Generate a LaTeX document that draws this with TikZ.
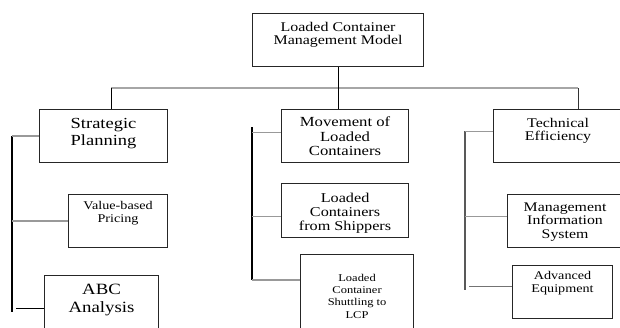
\documentclass[tikz,border=0pt]{standalone}
\usepackage{fontspec}
\setmainfont{Liberation Serif}[FakeStretch=1.2]
\usepackage{tikz}

% text of a box: width, height, top padding, lines
\newcommand\boxtext[4]{\parbox[c][#2pt][t]{#1pt}{\centering\vspace*{#3pt}#4}}
\newcommand\fs[2]{\fontsize{#1}{#2}\selectfont}

\begin{document}
\begin{tikzpicture}[x=1pt, y=-1pt,
      box/.style={draw=black!85, line width=1.1pt, inner sep=0pt, anchor=north west},
      spine/.style={draw=black, line width=1.1pt},
      link/.style={draw=black!40, line width=1.4pt},
      bus/.style={draw=black!35, line width=1.4pt}]
    \clip (0,0) rectangle (620,327);
    \fill[white] (0,0) rectangle (620,327);
    % top of the tree
    \node[box, font={\fs{13.3}{13}}] (root) at (252,13)
      {\boxtext{171}{53}{8.4}{Loaded Container\\Management Model}};
    \node[box, font={\fs{15.4}{17.3}}] (strat) at (39,109)
      {\boxtext{128}{53}{8.8}{Strategic\\Planning}};
    \node[box, font={\fs{13.9}{14.5}}] (move) at (281,109)
      {\boxtext{127}{53}{7.2}{Movement of\\Loaded\\Containers}};
    \node[box, font={\fs{13.3}{13.3}}] (tech) at (493,109)
      {\boxtext{129}{53}{8.4}{Technical\\Efficiency}};
    % left column
    \node[box, font={\fs{11.8}{12.7}}] (value) at (68,194)
      {\boxtext{99}{53}{7}{Value-based\\Pricing}};
    \node[box, font={\fs{15.7}{18}}] (abc) at (44,275)
      {\boxtext{114}{65}{8.7}{ABC\\Analysis}};
    % middle column
    \node[box, font={\fs{13.5}{14}}] (ship) at (281,183)
      {\boxtext{127}{54}{9.3}{Loaded\\Containers\\from Shippers}};
    \node[box, font={\fs{10.4}{12.3}}] (shut) at (300,254)
      {\boxtext{113}{86}{19.4}{Loaded\\Container\\Shuttling to\\LCP}};
    % right column
    \node[box, font={\fs{13.2}{13.3}}] (mis) at (507,194)
      {\boxtext{115}{53}{8.5}{Management\\Information\\System}};
    \node[box, font={\fs{11.8}{12.7}}] (adv) at (512,265)
      {\boxtext{100}{53}{6}{Advanced\\Equipment}};

    \coordinate (bl) at (111,88);
    \coordinate (br) at (578,88);
    \coordinate (ltop) at (12,136);
    \coordinate (lbot) at (12,312);
    \coordinate (mtop) at (252,127);
    \coordinate (mbot) at (252,280);
    \coordinate (rtop) at (465,131);
    \coordinate (rbot) at (465,290);

    \draw[bus] (bl) -- (br);
    \draw[spine] (root.south) -- (root.south |- move.north);
    \draw[spine, line width=0.9pt] (bl) -- (bl |- strat.north);
    \draw[spine, line width=0.9pt, draw=black!80] (br) -- (br |- tech.north);

    \draw[spine] (ltop) -- (lbot);
    \draw[link] (strat.west) -- (strat.west -| ltop);
    \draw[link] (value.west) -- (value.west -| ltop);
    \draw[spine, shorten >=4pt] (abc.west) -- (abc.west -| ltop);

    \draw[spine] (mtop) -- (mbot);
    \draw[link] ([yshift=3.5pt]move.west) -- ([yshift=3.5pt]move.west -| mtop);
    \draw[link] ([yshift=-6pt]ship.west) -- ([yshift=-6pt]ship.west -| mtop);
    \draw[link] ([yshift=-26pt]shut.north west) -- (mbot);

    \draw[spine, draw=black!65] (rtop) -- (rbot);
    \draw[link] ([yshift=4.5pt]tech.west) -- ([yshift=4.5pt]tech.west -| rtop);
    \draw[link] ([yshift=4.5pt]mis.west) -- ([yshift=4.5pt]mis.west -| rtop);
    \draw[link, draw=black!55, shorten >=4pt] ([yshift=5.5pt]adv.west) -- ([yshift=5.5pt]adv.west -| rtop);
\end{tikzpicture}
\end{document}
